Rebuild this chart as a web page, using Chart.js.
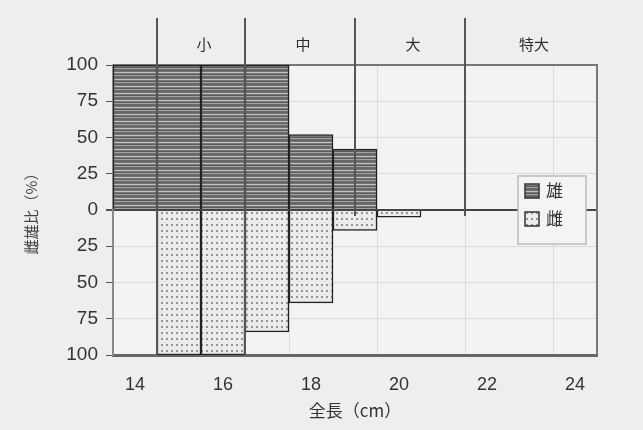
<!DOCTYPE html>
<html>
<head>
<meta charset="utf-8">
<script src="https://cdn.jsdelivr.net/npm/chart.js@4.4.1/dist/chart.umd.min.js"></script>
<style>
  html, body { margin: 0; padding: 0; background: #eeeeee; }
  #wrap { width: 643px; height: 430px; }
</style>
</head>
<body>
<div id="wrap"><canvas id="chart1" width="643" height="430"></canvas></div>
<script>
// full length classes (cm), one bar each
let lengths = ['14', '15', '16', '17', '18', '19', '20', '21', '22', '23', '24'];
let xTickLabels = ['14', '16', '18', '20', '22', '24'];
// share of each sex (%)
let maleValues = [100, 100, 100, 100, 52, 42, 0, 0, 0, 0, 0];
let femaleValues = [0, 100, 100, 84, 64, 14, 5, 0, 0, 0, 0];
let seriesNames = ['雄', '雌'];
// size classes and their limits on the length axis (cm)
let classNames = ['小', '中', '大', '特大'];
let classBounds = [14.5, 16.5, 19, 21.5, 24.5];

const cjkFont = '"Noto Sans CJK JP", "Noto Sans", sans-serif';
const numFont = '"Liberation Sans", Arial, sans-serif';

function stripePattern() {
    var c = document.createElement('canvas');
    c.width = 4;
    c.height = 7;
    var g = c.getContext('2d');
    var rows = ['#666666', '#727272', '#c2c2c2', '#777777', '#5c5c5c', '#a4a4a4', '#6a6a6a'];
    for (var i = 0; i < rows.length; i++) {
        g.fillStyle = rows[i];
        g.fillRect(0, i, 4, 1);
    }
    return g.createPattern(c, 'repeat');
}

function dotPattern() {
    var c = document.createElement('canvas');
    c.width = 5;
    c.height = 6;
    var g = c.getContext('2d');
    g.fillStyle = '#ebebeb';
    g.fillRect(0, 0, 5, 6);
    g.fillStyle = '#959595';
    g.fillRect(1, 2, 2, 2);
    return g.createPattern(c, 'repeat');
}

// cm value -> pixel on the category axis
function cmToPixel(xScale, cm) {
    return xScale.getPixelForValue(cm - Number(lengths[0]));
}

const framePlugin = {
    id: 'frame',
    beforeDraw(chart) {
        const ctx = chart.ctx;
        const a = chart.chartArea;
        ctx.save();
        ctx.fillStyle = '#eeeeee';
        ctx.fillRect(0, 0, chart.width, chart.height);
        ctx.fillStyle = '#f3f3f3';
        ctx.fillRect(a.left, a.top, a.right - a.left, a.bottom - a.top);
        ctx.restore();
    },
    beforeDatasetsDraw(chart) {
        const ctx = chart.ctx;
        const a = chart.chartArea;
        ctx.save();
        ctx.strokeStyle = '#777777';
        ctx.lineWidth = 2;
        ctx.beginPath();
        ctx.moveTo(a.left, a.top);
        ctx.lineTo(a.right, a.top);
        ctx.lineTo(a.right, a.bottom);
        ctx.stroke();
        ctx.restore();
    },
    afterDatasetsDraw(chart) {
        const ctx = chart.ctx;
        const a = chart.chartArea;
        const xs = chart.scales.x;
        const ys = chart.scales.y;
        const zeroY = ys.getPixelForValue(0);
        ctx.save();

        // class dividers
        ctx.strokeStyle = '#555555';
        ctx.lineWidth = 2;
        for (let i = 0; i < classBounds.length - 1; i++) {
            const px = Math.round(cmToPixel(xs, classBounds[i]));
            const endY = i < 2 ? a.bottom : zeroY + 6;
            ctx.beginPath();
            ctx.moveTo(px, 18);
            ctx.lineTo(px, endY);
            ctx.stroke();
        }

        // class names
        ctx.fillStyle = '#2e2e2e';
        ctx.font = '15px ' + cjkFont;
        ctx.textAlign = 'center';
        ctx.textBaseline = 'middle';
        for (let i = 0; i < classNames.length; i++) {
            const mid = (cmToPixel(xs, classBounds[i]) + cmToPixel(xs, classBounds[i + 1])) / 2;
            ctx.fillText(classNames[i], mid + 3, 44);
        }

        // legend box
        const bx = 518, by = 176, bw = 68, bh = 68;
        ctx.fillStyle = '#f4f4f4';
        ctx.fillRect(bx, by, bw, bh);
        ctx.strokeStyle = '#bbbbbb';
        ctx.lineWidth = 1.5;
        ctx.strokeRect(bx, by, bw, bh);
        ctx.font = '17px ' + cjkFont;
        ctx.textAlign = 'left';
        chart.data.datasets.forEach(function (ds, i) {
            const sy = by + 8 + i * 28;
            ctx.fillStyle = ds.backgroundColor;
            ctx.fillRect(bx + 7, sy, 14, 14);
            ctx.strokeStyle = '#333333';
            ctx.lineWidth = 1.5;
            ctx.strokeRect(bx + 7, sy, 14, 14);
            ctx.fillStyle = '#333333';
            ctx.fillText(ds.label, bx + 28, sy + 7);
        });
        ctx.restore();
    }
};

new Chart(document.getElementById('chart1'), {
    type: 'bar',
    data: {
        labels: lengths,
        datasets: [{
            label: seriesNames[0],
            data: maleValues,
            backgroundColor: stripePattern(),
            borderColor: '#222222',
            borderWidth: 1.5,
            barPercentage: 1,
            categoryPercentage: 1
        }, {
            label: seriesNames[1],
            data: femaleValues.map(v => -v),
            backgroundColor: dotPattern(),
            borderColor: '#222222',
            borderWidth: 1.5,
            barPercentage: 1,
            categoryPercentage: 1
        }]
    },
    options: {
        responsive: false,
        animation: false,
        devicePixelRatio: 1,
        layout: { padding: { top: 65, right: 46, left: 0, bottom: 0 } },
        plugins: {
            legend: { display: false },
            tooltip: { enabled: false }
        },
        scales: {
            x: {
                stacked: true,
                afterFit: function (s) { s.height = 75; },
                grid: {
                    offset: true,
                    drawTicks: false,
                    color: function (c) {
                        return (c.index > 0 && c.index % 2 === 0) ? '#dadada' : 'rgba(0,0,0,0)';
                    }
                },
                border: { color: '#666666', width: 3 },
                ticks: {
                    autoSkip: false,
                    maxRotation: 0,
                    padding: 19,
                    color: '#333333',
                    font: { family: numFont, size: 18 },
                    callback: function (v, i) {
                        const lab = lengths[i];
                        return xTickLabels.indexOf(lab) >= 0 ? lab : '';
                    }
                },
                title: {
                    display: true,
                    text: '全長（cm）',
                    color: '#333333',
                    font: { family: cjkFont, size: 17 },
                    padding: { top: 0, bottom: 9 }
                }
            },
            y: {
                stacked: true,
                min: -100,
                max: 100,
                afterFit: function (s) { s.width = 113; },
                grid: {
                    tickLength: 7,
                    tickColor: '#555555',
                    color: function (c) {
                        return c.tick && c.tick.value === 0 ? '#444444' : '#dadada';
                    },
                    lineWidth: function (c) {
                        return c.tick && c.tick.value === 0 ? 2 : 1;
                    }
                },
                border: { color: '#8a8a8a', width: 2 },
                ticks: {
                    stepSize: 25,
                    padding: 8,
                    color: '#333333',
                    font: { family: numFont, size: 19 },
                    callback: function (v) { return Math.abs(v); }
                },
                title: {
                    display: true,
                    text: '雌雄比（%）',
                    color: '#444444',
                    font: { family: cjkFont, size: 15 },
                    padding: { top: 22, bottom: 0 }
                }
            }
        }
    },
    plugins: [framePlugin]
});
</script>
</body>
</html>
